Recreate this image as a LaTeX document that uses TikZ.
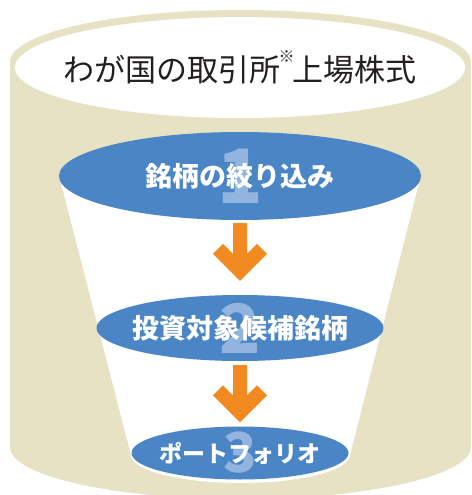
\documentclass[tikz,border=0pt]{standalone}
\usepackage{fontspec}
\newfontfamily\jpfont{Noto Sans CJK JP}
\usetikzlibrary{positioning}
\usetikzlibrary{calc,shapes.geometric}
\definecolor{drum}{HTML}{E6E2C3}
\definecolor{stageblue}{HTML}{4A86C5}
\definecolor{numblue}{HTML}{93B4DF}
\definecolor{flow}{HTML}{F28A22}
\definecolor{ink}{HTML}{231F20}
\begin{document}
\begin{tikzpicture}[x=1pt,y=-1pt,on grid,
stage/.style n args={2}{ellipse,fill=stageblue,inner sep=0pt,
  path picture={\node[text=numblue,font=\jpfont\bfseries\fontsize{#2}{#2}\selectfont] at (path picture bounding box.center) {#1};}},
stagetext/.style={text=white,font=\jpfont\bfseries\fontsize{27}{27}\selectfont},
fatarrow/.style={fill=flow,to path={let \p1=(\tikztostart),\p2=(\tikztotarget) in
  (\x1-7pt,\y1) -- (\x1+7pt,\y1) -- (\x1+7pt,\y2+27pt) -- (\x1+17pt,\y2+37pt) -- (\x1+27pt,\y2+27pt) -- (\x1,\y2)
  -- (\x1-27pt,\y2+27pt) -- (\x1-17pt,\y2+37pt) -- (\x1-7pt,\y2+27pt) -- cycle}}]
\clip (0,0) rectangle (471,495);
\fill[drum] (240.5,62) ellipse [x radius=230.5,y radius=52];
\fill[drum] (10,62) rectangle (471,447);
\fill[drum] (240.5,447) ellipse [x radius=230.5,y radius=52];
\node[ellipse,fill=white,inner sep=0pt,minimum width=450pt,minimum height=101pt,
  label={[text=ink,font=\jpfont\fontsize{31}{31}\selectfont]center:わが国の取引所\kern-2pt\raisebox{19pt}{\fontsize{16}{16}\selectfont ※}\kern-2pt上場株式}] (market) at (240,67.5) {};
\fill[white] (61,183) -- (131,455) arc[start angle=180,end angle=0,x radius=109.5,y radius=28] -- (419,183) -- cycle;

\node[stage={1}{75},minimum width=362pt,minimum height=88pt,label={[stagetext]center:銘柄の絞り込み}] (s1) at (240,176) {};
\node[stage={2}{68},minimum width=287pt,minimum height=66pt,label={[stagetext]center:投資対象候補銘柄}] (s2) [below=152pt of s1] {};
\node[stage={3}{55},minimum width=217pt,minimum height=53pt,label={[stagetext,font=\jpfont\bfseries\fontsize{23}{23}\selectfont]center:ポートフォリオ}] (s3) [below=125pt of s2] {};

\path[fatarrow] ([yshift=-3pt]s1.south) to ([yshift=14pt]s2.north);
\path[fatarrow] ([yshift=-4pt]s2.south) to ([yshift=4pt]s3.north);
\end{tikzpicture}
\end{document}
